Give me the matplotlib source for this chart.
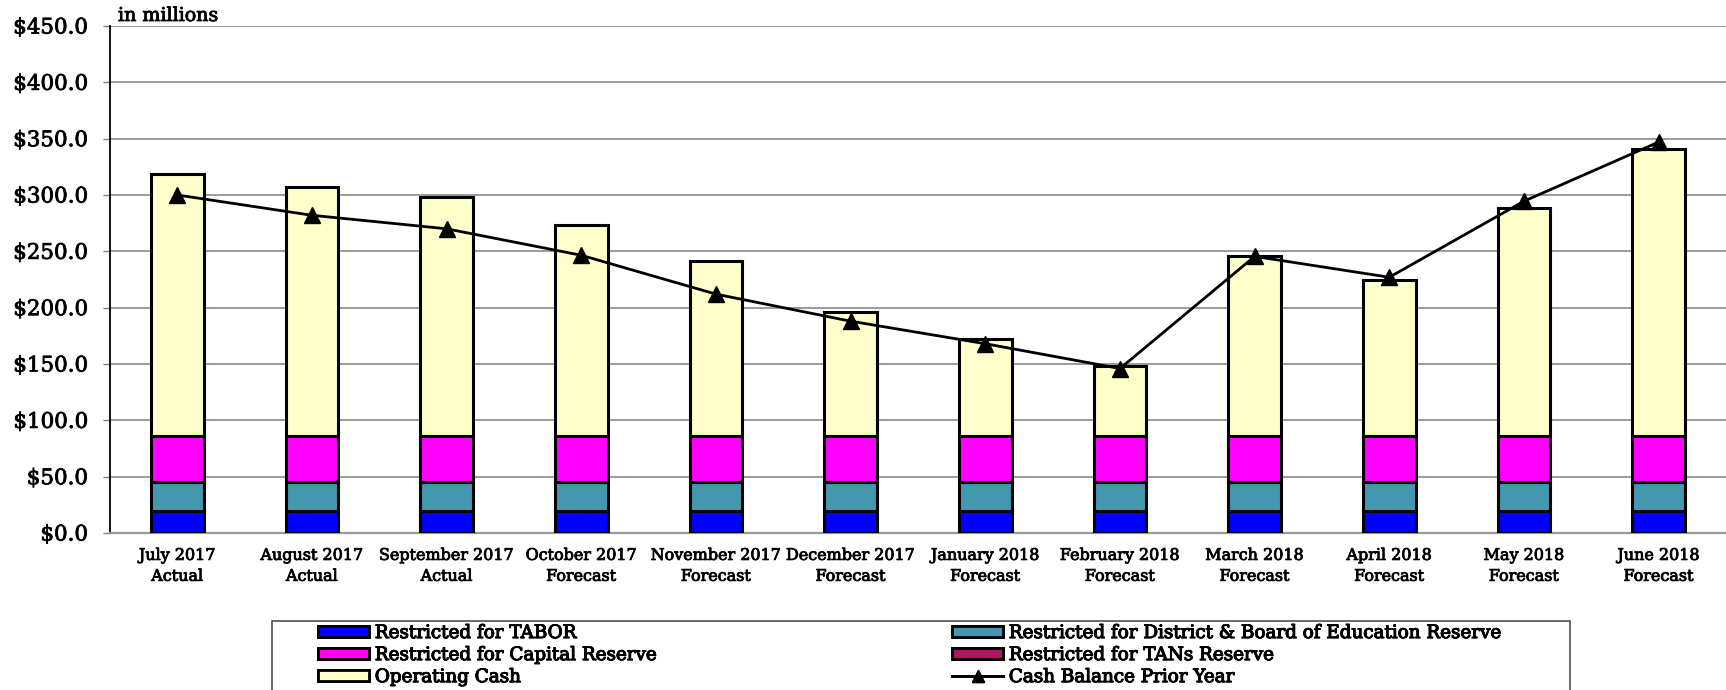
import matplotlib
matplotlib.use("Agg")
import matplotlib.pyplot as plt
import matplotlib.patheffects as pe
from matplotlib.patches import Rectangle
from matplotlib.lines import Line2D
import numpy as np

plt.rcParams['font.family'] = ['DejaVu Serif']

months = ["July 2017\nActual", "August 2017\nActual", "September 2017\nActual",
          "October 2017\nForecast", "November 2017\nForecast", "December 2017\nForecast",
          "January 2018\nForecast", "February 2018\nForecast", "March 2018\nForecast",
          "April 2018\nForecast", "May 2018\nForecast", "June 2018\nForecast"]

# $ millions
tabor = [19.5] * 12
district = [25.5] * 12
capital = [41.0] * 12
tans = [0.0] * 12
operating = [233.0, 221.5, 212.5, 187.0, 155.0, 110.0, 86.0, 62.0, 160.0, 138.5, 202.5, 255.0]
prior_year = [300.0, 282.0, 270.0, 246.5, 212.0, 188.0, 168.0, 146.0, 245.5, 227.0, 294.5, 347.0]

colors = {
    "tabor": "#0000FF",
    "district": "#4397AE",
    "capital": "#FF00FF",
    "tans": "#B0135F",
    "operating": "#FFFFCC",
}

# slightly heavier text
heavy = [pe.withStroke(linewidth=0.6, foreground="black")]

W, H = 1726, 690
fig = plt.figure(figsize=(W / 100, H / 100), dpi=100)
ax = fig.add_axes([110 / W, 1 - 533 / H, 1 - 110 / W, (533 - 26) / H])

x = np.arange(len(months))
w = 0.39
edge = dict(edgecolor="black", linewidth=2.2, zorder=3)

bottom = np.zeros(len(months))
series = [("tabor", tabor, "Restricted for TABOR"),
          ("district", district, "Restricted for District & Board of Education Reserve"),
          ("capital", capital, "Restricted for Capital Reserve"),
          ("tans", tans, "Restricted for TANs Reserve"),
          ("operating", operating, "Operating Cash")]
handles = {}
for key, vals, label in series:
    vals = np.array(vals)
    if vals.any():
        ax.bar(x, vals, w, bottom=bottom, color=colors[key], **edge)
    bottom += vals
    handles[key] = Rectangle((0, 0), 1, 1, facecolor=colors[key], edgecolor="black",
                             linewidth=2, label=label)

ax.plot(x, prior_year, color="black", linewidth=2, marker="^", markersize=11, zorder=4)
handles["line"] = Line2D([], [], color="black", linewidth=2, marker="^", markersize=9,
                         label="Cash Balance Prior Year")

ax.set_xlim(-0.5, len(months) - 0.5)
ax.set_ylim(0, 450)
ax.set_yticks(np.arange(0, 451, 50))
ax.set_yticklabels(["${:.1f}".format(v) for v in np.arange(0, 451, 50)], fontsize=15.4)
ax.set_xticks(x)
ax.set_xticklabels(months, fontsize=11.5, linespacing=1.3)
ax.tick_params(axis="x", length=0, pad=10)
ax.tick_params(axis="y", length=5, color="#808080", width=1, pad=11)
for t in ax.get_xticklabels() + ax.get_yticklabels():
    t.set_path_effects(heavy)

ax.grid(axis="y", color="#808080", linewidth=1.1, zorder=0)
ax.set_axisbelow(True)
for s in ["top", "right"]:
    ax.spines[s].set_visible(False)
ax.spines["left"].set_color("black")
ax.spines["left"].set_linewidth(1.3)
ax.spines["bottom"].set_color("#999999")
ax.spines["bottom"].set_linewidth(1.6)

fig.text(118 / W, 1 - 21 / H, "in millions", fontsize=13.7, va="baseline", ha="left",
         path_effects=heavy)

# legend frame runs off the bottom of the figure
fig.patches.append(Rectangle((272 / W, -0.05), 1298 / W, 0.05 + 1 - 621 / H,
                             transform=fig.transFigure, facecolor="none",
                             edgecolor="#404040", linewidth=1.1, clip_on=False))

leg_kw = dict(loc="upper left", frameon=False, fontsize=13.2, borderpad=0,
              borderaxespad=0, handlelength=2.8, handleheight=0.55,
              handletextpad=0.3, labelspacing=0.22)
columns = [(["tabor", "capital", "operating"], 318),
           (["district", "tans", "line"], 952)]
for keys, x0 in columns:
    leg = fig.legend([handles[k] for k in keys], [handles[k].get_label() for k in keys],
                     bbox_to_anchor=(x0 / W, 1 - 624 / H), **leg_kw)
    for t in leg.get_texts():
        t.set_path_effects(heavy)
    fig.add_artist(leg)

fig.savefig("out.png", dpi=100)
